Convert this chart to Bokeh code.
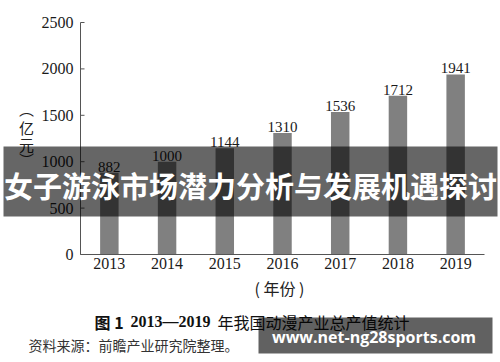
from bokeh.plotting import figure
from bokeh.models import ColumnDataSource, Label, BoxAnnotation, Range1d
from bokeh.core.properties import value
from bokeh.embed import file_html
from bokeh.resources import INLINE

# ---- data ----
years = [2013, 2014, 2015, 2016, 2017, 2018, 2019]
year_labels = ["2013", "2014", "2015", "2016", "2017", "2018", "2019"]
totals = [882, 1000, 1144, 1310, 1536, 1712, 1941]
y_ticks = [0, 500, 1000, 1500, 2000, 2500]
y_tick_labels = ["0", "500", "1000", "1500", "2000", "2500"]
y_unit_chars = ["︵", "亿", "元", "︶"]
x_title = "( 年份 )"
fig_no = "图 1"
fig_years = "2013—2019"
fig_title = "年我国动漫产业总产值统计"
source_note = "资料来源：前瞻产业研究院整理。"
banner_text = "女子游泳市场潜力分析与发展机遇探讨"
watermark = "www.net-ng28sports.com"

# ---- layout geometry (pixels) ----
W, H = 500, 362
AX_LEFT_PX, AX_RIGHT_PX = 80, 484      # x axis extent on canvas
AX_BOTTOM_PX, AX_TOP_PX = 254, 22      # y of 0 and of 2500 (from top)

x_lo, x_hi = years[0] - 0.5, years[-1] + 0.5
ppu_x = (AX_RIGHT_PX - AX_LEFT_PX) / (x_hi - x_lo)
y_lo, y_hi = y_ticks[0], y_ticks[-1]
ppu_y = (AX_BOTTOM_PX - AX_TOP_PX) / (y_hi - y_lo)

x_range = Range1d(x_lo - AX_LEFT_PX / ppu_x, x_hi + (W - AX_RIGHT_PX) / ppu_x)
y_range = Range1d(y_lo - (H - AX_BOTTOM_PX) / ppu_y, y_hi + AX_TOP_PX / ppu_y)

p = figure(width=W, height=H, x_range=x_range, y_range=y_range,
           x_axis_type=None, y_axis_type=None, min_border=0,
           output_backend="svg", toolbar_location=None)
p.outline_line_color = None
p.xgrid.grid_line_color = None
p.ygrid.grid_line_color = None
p.background_fill_color = "white"
p.border_fill_color = "white"

axis_color = "#555555"
text_color = "#1a1a1a"
serif = "Liberation Serif"
cjk = "Noto Sans CJK SC"

src = ColumnDataSource(dict(year=years, total=totals, label=[str(v) for v in totals]))

# bars and value labels
p.vbar(x="year", top="total", width=0.32, source=src, fill_color="#808080", line_color=None)
p.text(x="year", y="total", text="label", source=src, text_align="center",
       text_baseline="bottom", y_offset=-1, text_font=value(serif),
       text_font_size="15px", text_color=text_color)

# y axis: line, inward ticks, labels
p.segment(x0=[x_lo], y0=[y_lo], x1=[x_lo], y1=[y_hi], line_color=axis_color, line_width=1)
tick_len = 4 / ppu_x
p.segment(x0=[x_lo] * len(y_ticks), y0=y_ticks, x1=[x_lo + tick_len] * len(y_ticks), y1=y_ticks,
          line_color=axis_color, line_width=1)
p.text(x=[x_lo] * len(y_ticks), y=y_ticks, text=y_tick_labels, x_offset=-7,
       text_align="right", text_baseline="middle", text_font=value(serif),
       text_font_size="16px", text_color=text_color)

# x axis: line and labels
p.segment(x0=[x_lo], y0=[y_lo], x1=[x_hi], y1=[y_lo], line_color=axis_color, line_width=1)
p.text(x=years, y=[y_lo] * len(years), text=year_labels, y_offset=3,
       text_align="center", text_baseline="top", text_font=value(serif),
       text_font_size="16px", text_color=text_color)


def lab(x, y, text, font, size, color=text_color, style="normal", align="left",
        baseline="middle"):
    p.add_layout(Label(x=x, y=H - y, x_units="screen", y_units="screen", text=text,
                       text_font=font, text_font_size=size, text_font_style=style,
                       text_color=color, text_align=align, text_baseline=baseline))


# y unit, written vertically (vertical presentation forms for the brackets)
for ch, cy in zip(y_unit_chars, [108, 127, 144, 159]):
    lab(26, cy, ch, cjk, "15px", color="#222222", align="center")

lab(279, 287, x_title, cjk, "16px", color="#222222", align="center")

# caption and source
lab(94, 321, fig_no, cjk, "16px", color="#111111", style="bold")
lab(130, 321, fig_years, serif, "16px", color="#111111", style="bold")
lab(217, 321, fig_title, cjk, "16px", color="#111111")
lab(28, 344, source_note, cjk, "14px", color="#333333")

# overlay banner
p.add_layout(BoxAnnotation(left=3, right=497, top=H - 146, bottom=H - 216,
                           left_units="screen", right_units="screen",
                           top_units="screen", bottom_units="screen",
                           fill_color="black", fill_alpha=0.6, line_color=None))
lab(250, 184, banner_text, cjk, "29px", color="white", style="bold", align="center")

# watermark box
p.add_layout(BoxAnnotation(left=258, right=492, top=H - 317, bottom=H - 353,
                           left_units="screen", right_units="screen",
                           top_units="screen", bottom_units="screen",
                           fill_color="black", fill_alpha=0.62, line_color=None))
lab(373.5, 336, watermark, "Open Sans", "16px", color="white", style="bold", align="center")

open("out.html", "w").write(file_html(p, INLINE))
